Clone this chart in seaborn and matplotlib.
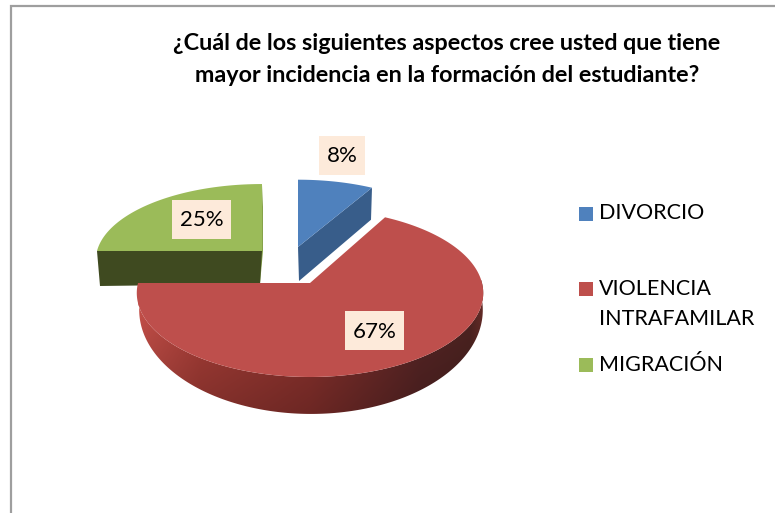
import numpy as np
import matplotlib
matplotlib.use("Agg")
import matplotlib.pyplot as plt
from matplotlib.patches import Polygon, Rectangle
import seaborn as sns

title_lines = ["¿Cuál de los siguientes aspectos cree usted que tiene",
               "mayor incidencia en la formación del estudiante?"]
categories = ["DIVORCIO", "VIOLENCIA\nINTRAFAMILAR", "MIGRACIÓN"]
values = [8, 67, 25]
top_colors = ["#4F81BD", "#BE4F4C", "#9BBB59"]
side_colors = ["#385D8A", "#7A2D2A", "#3F4A20"]
label_bg = "#FDEADA"

sns.set_theme(style="white")
plt.rcParams["font.family"] = ["Lato", "DejaVu Sans"]

W, H = 775, 513
fig = plt.figure(figsize=(W / 100, H / 100), dpi=100, facecolor="white")
ax = fig.add_axes([0, 0, 1, 1])
wedges, _ = ax.pie(values, startangle=90, counterclock=False, frame=True)
angles = [(w.theta1, w.theta2) for w in wedges]
for w in wedges:
    w.remove()
ax.set_xlim(0, W)
ax.set_ylim(H, 0)
ax.set_aspect("auto")
ax.axis("off")


def project(theta, cx, cy, rx, a, b):
    t = np.radians(theta)
    u, v = np.cos(t), np.sin(t)
    d = 1 + b * v
    return cx + rx * u / d, cy - a * v / d


def arc(t1, t2, geo, n=200):
    x, y = project(np.linspace(t1, t2, n), *geo)
    return np.column_stack([x, y])


# geometry of each exploded slice: centre x, centre y, x radius, y scale, perspective
geo_top = [(298, 247, 159, 70, 0.04), (310, 283, 172, 82.8, 0.119), (262, 251, 165, 75, 0.12)]
depth = [34, 0, 33]

# green slice
t1, t2 = angles[2]
g = geo_top[2]
top = arc(t1, t2, g)
apex = np.array([[g[0], g[1]]])
ax.add_patch(Polygon([[263, 185], [263, 251], [260, 284], [260, 251]], fc="#86A24A", ec="none", zorder=1))
left = top[np.argmin(top[:, 0])]
ax.add_patch(Polygon([apex[0], left, left + [3, depth[2] + 2], apex[0] + [-2, depth[2]]],
                     fc=side_colors[2], ec="none", zorder=2))
ax.add_patch(Polygon(np.vstack([apex, top]), fc=top_colors[2], ec="none", zorder=3))

# blue slice
t1, t2 = angles[0]
g = geo_top[0]
top = arc(t1, t2, g)
apex = np.array([[g[0], g[1]]])
right = top[np.argmax(top[:, 0])]
ax.add_patch(Polygon([apex[0], right, right + [-1, 32], apex[0] + [1, depth[0]]],
                     fc=side_colors[0], ec="none", zorder=2))
ax.add_patch(Polygon(np.vstack([apex, top]), fc=top_colors[0], ec="none", zorder=3))

# red slice: wall with shaded gradient, then top face
t1, t2 = angles[1]
g = geo_top[1]
g_bottom = (311, 300, 171, 103, 0.096)
wall = np.vstack([arc(t1, 12, g), arc(12, t1, g_bottom)])
xs = np.array([138, 200, 310, 420, 470, 484])
base = np.array([[178, 72, 66], [152, 56, 50], [128, 46, 42], [80, 34, 34], [70, 32, 30], [92, 40, 36]]) / 255
gx = np.linspace(138, 484, 350)
gy = np.linspace(280, 416, 140)
img = np.zeros((gy.size, gx.size, 3))
shade = np.interp(gy, [300, 414], [1.12, 0.85])
for c in range(3):
    img[:, :, c] = np.clip(np.outer(shade, np.interp(gx, xs, base[:, c])), 0, 1)
im = ax.imshow(img, extent=(138, 484, 416, 280), aspect="auto", zorder=4, interpolation="bilinear")
ax.set_xlim(0, W)
ax.set_ylim(H, 0)
clip = Polygon(wall, transform=ax.transData, fc="none", ec="none")
ax.add_patch(clip)
im.set_clip_path(clip)
top = arc(t1, t2, g)
ax.add_patch(Polygon(np.vstack([[[g[0], g[1]]], top]), fc=top_colors[1], ec="none", zorder=5))

# percentage labels
label_xy = [(342, 155.5), (374.5, 330.5), (201.5, 219.5)]
for val, (x, y) in zip(values, label_xy):
    bw = 46 if val < 10 else 59
    ax.add_patch(Rectangle((x - bw / 2, y - 19.5), bw, 39, fc=label_bg, ec="none", zorder=6))
    ax.text(x, y + 1, f"{val}%", ha="center", va="center", fontsize=16, color="black", zorder=7)

# legend
marker_y = [214, 289, 365]
text_y = [213, 304, 365]
for name, col, my, ty in zip(categories, top_colors, marker_y, text_y):
    ax.add_patch(Rectangle((579, my - 7), 14, 14, fc=col, ec="none", zorder=6))
    ax.text(599, ty, name, ha="left", va="center", fontsize=15.5, color="black",
            linespacing=1.6, zorder=7)

# title
ax.text(447, 43, title_lines[0], ha="center", va="center", fontsize=16.8, fontweight="bold", color="black")
ax.text(447, 75, title_lines[1], ha="center", va="center", fontsize=16.8, fontweight="bold", color="black")

# chart frame
ax.plot([11, 11, W], [H, 6, 6], color="#9E9E9E", lw=1.6, solid_joinstyle="miter", zorder=8, clip_on=True)

fig.savefig("out.png", dpi=100, facecolor="white")
